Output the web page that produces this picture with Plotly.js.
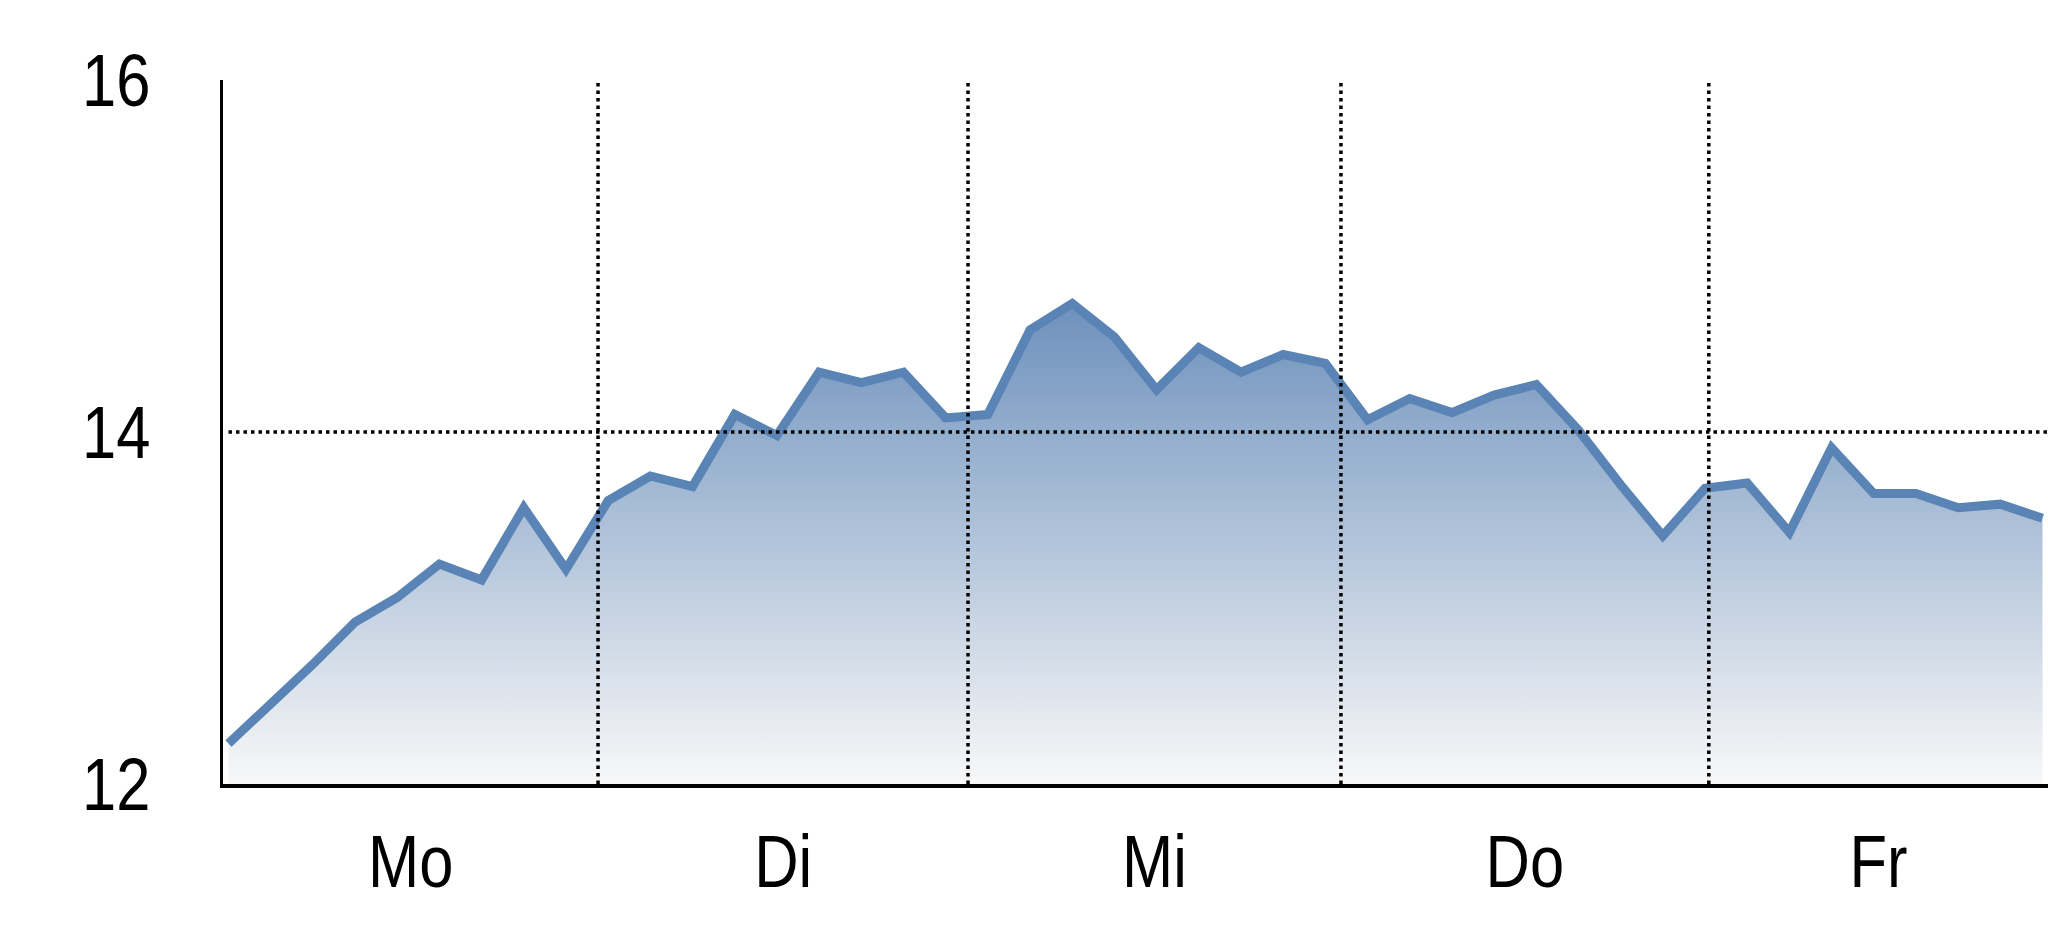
<!DOCTYPE html>
<html>
<head>
<meta charset="utf-8">
<script src="https://cdn.plot.ly/plotly-3.0.1.min.js"></script>
<style>
  html, body { margin: 0; padding: 0; background: #ffffff; overflow: hidden; }
  #chart { width: 2048px; height: 937px; }
</style>
</head>
<body>
<div id="chart"></div>
<script>
// ---- data ----
const times = [0, 1, 2, 3, 4, 5, 6, 7, 8, 9, 10, 11, 12, 13, 14, 15, 16, 17, 18, 19, 20, 21,
               22, 23, 24, 25, 26, 27, 28, 29, 30, 31, 32, 33, 34, 35, 36, 37, 38, 39, 40, 41, 42, 43];
const values = [12.23, 12.45, 12.68, 12.92, 13.06, 13.25, 13.16, 13.57, 13.22, 13.61, 13.75,
                13.69, 14.10, 13.98, 14.34, 14.28, 14.34, 14.08, 14.10, 14.58, 14.73, 14.54,
                14.24, 14.48, 14.34, 14.44, 14.39, 14.07, 14.19, 14.11, 14.21, 14.27, 14.01,
                13.70, 13.41, 13.68, 13.71, 13.43, 13.91, 13.65, 13.65, 13.57, 13.59, 13.51];
const dayLabels = ['Mo', 'Di', 'Mi', 'Do', 'Fr'];
const dayCenters = [4.32, 13.15, 21.95, 30.73, 39.11];
const dayBoundaries = [8.76, 17.53, 26.37, 35.09];
const yTicks = [12, 14, 16];
const yGridValues = [14];

// ---- styles ----
const FONT = 'Liberation Sans, Arial, sans-serif';
const NARROW = 0.82; // horizontal condensing of the label glyphs (Arial Narrow look)
const LINE_COLOR = 'rgb(89,132,181)';
const gridLine = { color: 'black', width: 3.5, dash: '3.5px,4px' };

const shapes = [];
dayBoundaries.forEach(function (b) {
  shapes.push({ type: 'line', layer: 'above', xref: 'x', yref: 'paper',
                x0: b, x1: b, y0: 0, y1: 1, line: gridLine });
});
yGridValues.forEach(function (v) {
  shapes.push({ type: 'line', layer: 'above', xref: 'paper', yref: 'y',
                x0: 0.003, x1: 1, y0: v, y1: v, line: gridLine });
});

const trace = {
  type: 'scatter',
  mode: 'lines',
  x: times,
  y: values,
  line: { color: LINE_COLOR, width: 9 },
  fill: 'tozeroy',
  fillgradient: {
    type: 'vertical',
    start: 12,
    stop: 14.75,
    colorscale: [[0, 'rgb(248,248,248)'], [1, 'rgb(108,144,188)']]
  },
  hoverinfo: 'skip',
  showlegend: false
};

const layout = {
  width: 2048,
  height: 937,
  margin: { l: 223, r: 0, t: 80, b: 153, pad: 0 },
  paper_bgcolor: 'white',
  plot_bgcolor: 'white',
  showlegend: false,
  font: { family: FONT, size: 75, color: 'black' },
  xaxis: {
    range: [-0.13, 43.13],
    tickmode: 'array',
    tickvals: dayCenters,
    ticktext: dayLabels,
    ticks: '',
    showgrid: false,
    zeroline: false,
    showline: true,
    linecolor: 'black',
    linewidth: 3.5,
    ticklabelstandoff: 10,
    tickfont: { family: FONT, size: 75, color: 'black' },
    fixedrange: true
  },
  yaxis: {
    range: [12, 16],
    tickmode: 'array',
    tickvals: yTicks,
    ticktext: yTicks.map(String),
    ticks: '',
    showgrid: false,
    zeroline: false,
    showline: true,
    linecolor: 'black',
    linewidth: 3.5,
    ticklabelstandoff: 54,
    tickfont: { family: FONT, size: 75, color: 'black' },
    fixedrange: true
  },
  shapes: shapes
};

function condense(selector, anchorRight) {
  document.querySelectorAll(selector).forEach(function (el) {
    const bb = el.getBBox();
    const cx = anchorRight ? bb.x + bb.width : bb.x + bb.width / 2;
    const base = el.getAttribute('transform') || '';
    el.setAttribute('transform', base + ' translate(' + cx + ',0) scale(' + NARROW + ',1) translate(' + (-cx) + ',0)');
  });
}

Plotly.newPlot('chart', [trace], layout, { displayModeBar: false, staticPlot: true }).then(function () {
  condense('.xtick text', false);
  condense('.ytick text', true);
});
</script>
</body>
</html>
